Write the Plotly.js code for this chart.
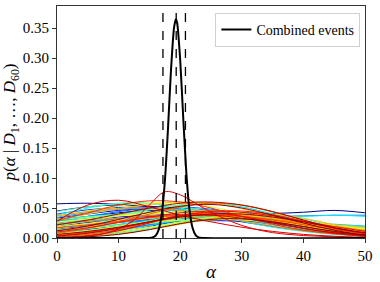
<!DOCTYPE html>
<html>
<head>
<meta charset="utf-8">
<script src="https://cdn.plot.ly/plotly-3.0.1.min.js"></script>
<style>html,body{margin:0;padding:0;background:#fff;}#chart{width:380px;height:282px;}</style>
</head>
<body>
<div id="chart"></div>
<script>
// alpha grid for individual event posteriors
const alphaGrid = [0,5,10,15,20,25,30,35,40,45,50];
const alphaFine = [0,2.5,5,7.5,10,12.5,15,17.5,20,22.5,25,27.5,30,32.5,35,37.5,40,42.5,45,47.5,50];

// posterior densities for each of the 60 events
const ev01 = [0.057,0.058,0.056,0.053,0.050,0.046,0.042,0.041,0.043,0.046,0.042];
const ev02 = [0.030,0.036,0.042,0.046,0.045,0.040,0.033,0.026,0.019,0.012,0.006];
const ev03 = [0.004,0.010,0.018,0.027,0.033,0.034,0.030,0.023,0.015,0.008,0.003];
const ev04 = [0.020,0.026,0.032,0.036,0.037,0.035,0.031,0.026,0.021,0.016,0.012];
const ev05 = [0.045,0.052,0.055,0.052,0.045,0.036,0.027,0.019,0.012,0.007,0.004];
const ev06 = [0.001,0.004,0.010,0.019,0.029,0.036,0.038,0.033,0.024,0.014,0.006];
const ev07 = [0.012,0.016,0.021,0.025,0.028,0.029,0.028,0.026,0.023,0.020,0.017];
const ev08 = [0.033,0.040,0.046,0.049,0.048,0.043,0.035,0.026,0.017,0.010,0.005];
const ev09 = [0.008,0.014,0.022,0.030,0.036,0.038,0.035,0.029,0.021,0.013,0.007];
const ev10 = [0.025,0.030,0.035,0.038,0.039,0.037,0.034,0.030,0.026,0.022,0.018];
const ev11 = [0.002,0.006,0.013,0.023,0.034,0.041,0.042,0.036,0.025,0.013,0.005];
const ev12 = [0.040,0.047,0.051,0.051,0.047,0.040,0.032,0.023,0.015,0.009,0.005];
const ev13 = [0.015,0.020,0.026,0.031,0.034,0.034,0.031,0.026,0.020,0.014,0.009];
const ev14 = [0.005,0.009,0.015,0.022,0.028,0.032,0.032,0.029,0.024,0.018,0.013];
const ev15 = [0.028,0.036,0.044,0.050,0.052,0.048,0.040,0.029,0.018,0.009,0.004];
const ev16 = [0.018,0.022,0.026,0.030,0.033,0.035,0.036,0.036,0.037,0.038,0.038];
const ev17 = [0.010,0.015,0.022,0.030,0.037,0.040,0.038,0.032,0.023,0.014,0.007];
const ev18 = [0.035,0.042,0.048,0.050,0.047,0.040,0.031,0.022,0.014,0.008,0.004];
const ev19 = [0.003,0.007,0.013,0.021,0.030,0.037,0.040,0.037,0.029,0.018,0.008];
const ev20 = [0.022,0.027,0.031,0.034,0.035,0.034,0.032,0.029,0.026,0.023,0.020];
const ev21 = [0.028,0.033,0.040,0.048,0.055,0.058,0.052,0.040,0.026,0.014,0.006];
const ev22 = [0.032,0.036,0.040,0.042,0.042,0.040,0.037,0.036,0.036,0.038,0.036];
const ev23 = [0.006,0.012,0.020,0.029,0.036,0.039,0.037,0.031,0.022,0.013,0.006];
const ev24 = [0.038,0.050,0.058,0.058,0.050,0.039,0.028,0.018,0.011,0.006,0.003];
const ev25 = [0.014,0.018,0.023,0.027,0.030,0.031,0.030,0.028,0.025,0.021,0.017];
const ev26 = [0.001,0.003,0.008,0.016,0.026,0.035,0.041,0.040,0.032,0.020,0.009];
const ev27 = [0.024,0.031,0.038,0.044,0.047,0.046,0.041,0.033,0.024,0.015,0.008];
const ev28 = [0.009,0.013,0.018,0.024,0.029,0.032,0.032,0.030,0.026,0.021,0.016];
const ev29 = [0.044,0.052,0.057,0.057,0.052,0.043,0.033,0.023,0.015,0.009,0.005];
const ev30 = [0.004,0.008,0.015,0.024,0.033,0.039,0.040,0.035,0.026,0.016,0.008];
const ev31 = [0.020,0.028,0.037,0.047,0.055,0.058,0.054,0.043,0.029,0.016,0.007];
const ev32 = [0.030,0.035,0.039,0.042,0.042,0.039,0.034,0.028,0.022,0.016,0.011];
const ev33 = [0.002,0.005,0.010,0.018,0.027,0.034,0.037,0.034,0.026,0.016,0.007];
const ev34 = [0.016,0.023,0.031,0.039,0.044,0.045,0.041,0.034,0.025,0.016,0.009];
const ev35 = [0.036,0.045,0.053,0.058,0.058,0.052,0.041,0.029,0.018,0.010,0.005];
const ev36 = [0.011,0.016,0.021,0.026,0.030,0.031,0.030,0.027,0.023,0.018,0.014];
const ev37 = [0.003,0.006,0.011,0.018,0.025,0.030,0.032,0.031,0.027,0.021,0.015];
const ev38 = [0.026,0.032,0.037,0.041,0.043,0.041,0.036,0.029,0.021,0.013,0.007];
const ev39 = [0.007,0.012,0.019,0.028,0.036,0.041,0.040,0.034,0.024,0.014,0.006];
const ev40 = [0.019,0.024,0.029,0.033,0.035,0.035,0.033,0.030,0.026,0.022,0.018];
const ev41 = [0.031,0.040,0.049,0.056,0.060,0.058,0.049,0.036,0.022,0.011,0.005];
const ev42 = [0.001,0.003,0.007,0.014,0.023,0.032,0.038,0.039,0.033,0.022,0.010];
const ev43 = [0.013,0.019,0.026,0.033,0.038,0.040,0.037,0.031,0.023,0.015,0.008];
const ev44 = [0.037,0.044,0.049,0.050,0.046,0.038,0.029,0.020,0.012,0.007,0.003];
const ev45 = [0.005,0.010,0.017,0.026,0.034,0.039,0.039,0.034,0.025,0.015,0.007];
const ev46 = [0.023,0.028,0.033,0.037,0.039,0.039,0.036,0.031,0.025,0.019,0.013];
const ev47 = [0.008,0.016,0.027,0.040,0.052,0.058,0.055,0.044,0.030,0.016,0.007];
const ev48 = [0.002,0.006,0.014,0.026,0.036,0.040,0.036,0.028,0.019,0.010,0.004];
const ev49 = [0.017,0.022,0.028,0.034,0.038,0.039,0.036,0.030,0.022,0.014,0.008];
const ev50 = [0.029,0.042,0.055,0.062,0.060,0.050,0.036,0.023,0.013,0.007,0.003];
const ev51 = [0.004,0.009,0.017,0.027,0.037,0.044,0.045,0.039,0.028,0.016,0.007];
const ev52 = [0.010,0.017,0.026,0.035,0.042,0.045,0.043,0.037,0.028,0.019,0.011];
const ev53 = [0.001,0.004,0.012,0.025,0.038,0.042,0.036,0.026,0.016,0.008,0.003];
const ev54 = [0.000,0.001,0.003,0.007,0.015,0.030,0.055,0.077,0.072,0.058,0.043,0.031,0.021,0.014,0.009,0.006,0.004,0.003,0.002,0.001,0.001];
const ev55 = [0.028,0.055,0.063,0.052,0.038,0.027,0.018,0.011,0.006,0.003,0.001];
const ev56 = [0.003,0.008,0.016,0.027,0.036,0.038,0.033,0.025,0.016,0.009,0.004];
const ev57 = [0.022,0.030,0.040,0.050,0.058,0.060,0.055,0.044,0.030,0.017,0.008];
const ev58 = [0.006,0.011,0.018,0.027,0.035,0.040,0.040,0.035,0.027,0.017,0.009];
const ev59 = [0.012,0.020,0.031,0.043,0.053,0.056,0.050,0.038,0.025,0.013,0.005];
const ev60 = [0.000,0.002,0.006,0.014,0.024,0.031,0.032,0.027,0.019,0.011,0.005];

const events = [ev01,ev02,ev03,ev04,ev05,ev06,ev07,ev08,ev09,ev10,ev11,ev12,ev13,ev14,ev15,
  ev16,ev17,ev18,ev19,ev20,ev21,ev22,ev23,ev24,ev25,ev26,ev27,ev28,ev29,ev30,
  ev31,ev32,ev33,ev34,ev35,ev36,ev37,ev38,ev39,ev40,ev41,ev42,ev43,ev44,ev45,
  ev46,ev47,ev48,ev49,ev50,ev51,ev52,ev53,ev54,ev55,ev56,ev57,ev58,ev59,ev60];

// combined posterior
const combinedAlpha = [0,14,15,15.5,16,16.5,17,17.5,18,18.5,19,19.3,19.5,20,20.5,21,21.5,22,22.5,23,24,50];
const combinedP = [0,0,0.0002,0.0008,0.0037,0.0135,0.0394,0.0933,0.179,0.279,0.351,0.365,0.359,0.297,0.199,0.108,0.0476,0.017,0.0049,0.0011,0,0];

// credible interval bounds and median
const intervalLines = [17.2, 19.35, 20.85];

function jet(t){
  const c = v => Math.round(255*Math.max(0, Math.min(1, v)));
  return `rgb(${c(1.5-Math.abs(4*t-3))},${c(1.5-Math.abs(4*t-2))},${c(1.5-Math.abs(4*t-1))})`;
}

const traces = events.map((ys, i) => ({
  x: ys.length === alphaFine.length ? alphaFine : alphaGrid,
  y: ys,
  type: 'scatter', mode: 'lines',
  line: {color: jet(i/(events.length-1)), width: 1, shape: 'spline', smoothing: 1},
  showlegend: false, hoverinfo: 'skip'
}));
traces.push({
  x: combinedAlpha, y: combinedP, type: 'scatter', mode: 'lines',
  name: 'Combined events',
  line: {color: 'black', width: 2, shape: 'spline', smoothing: 0.6}
});

const shapes = intervalLines.map(v => ({
  type: 'line', xref: 'x', yref: 'paper', x0: v, x1: v, y0: 0, y1: 1,
  line: {color: 'black', width: 1.3, dash: 'dash'}
}));

const serif = "'Liberation Serif', 'Times New Roman', serif";
const layout = {
  width: 380, height: 282,
  margin: {l: 57, r: 15, t: 6, b: 44},
  paper_bgcolor: 'white', plot_bgcolor: 'white',
  font: {family: serif, size: 14, color: '#000'},
  showlegend: true,
  legend: {x: 0.985, y: 0.97, xanchor: 'right', yanchor: 'top',
    bgcolor: 'white', bordercolor: '#d0d0d0', borderwidth: 1,
    font: {family: serif, size: 14}},
  xaxis: {range: [0, 50], dtick: 10, showgrid: false, zeroline: false,
    showline: true, mirror: true, linecolor: '#333', linewidth: 1,
    ticks: 'outside', ticklen: 4, tickcolor: '#333',
    tickfont: {family: serif, size: 15},
    title: {text: '<i>α</i>', font: {family: serif, size: 19}, standoff: 4}},
  yaxis: {range: [0, 0.387], dtick: 0.05, tickformat: '.2f', showgrid: false, zeroline: false,
    showline: true, mirror: true, linecolor: '#333', linewidth: 1,
    ticks: 'outside', ticklen: 4, tickcolor: '#333',
    tickfont: {family: serif, size: 15},
    title: {text: '<i>p</i>(<i>α</i> | <i>D</i><sub>1</sub>, …, <i>D</i><sub>60</sub>)', font: {family: serif, size: 17}, standoff: 4}},
  shapes: shapes
};

Plotly.newPlot('chart', traces, layout, {displayModeBar: false, staticPlot: true});
</script>
</body>
</html>
